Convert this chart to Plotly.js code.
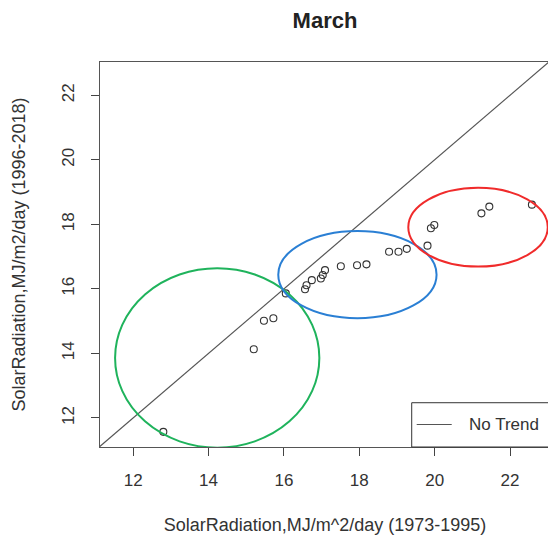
<!DOCTYPE html>
<html>
<head>
<meta charset="utf-8">
<script src="https://cdn.plot.ly/plotly-3.0.1.min.js"></script>
<style>
  html, body { margin: 0; padding: 0; overflow: hidden; background: #fff; }
  #chart { width: 550px; height: 544px; }
</style>
</head>
<body>
<div id="chart"></div>
<script>
// March solar radiation: sorted 1973-1995 values against sorted 1996-2018 values
const early = [12.80, 15.20, 15.47, 15.72, 16.05, 16.56, 16.60, 16.74, 16.98, 17.03,
               17.09, 17.51, 17.94, 18.19, 18.79, 19.04, 19.26, 19.81, 19.90, 19.99,
               21.24, 21.45, 22.58];
const late  = [11.57, 14.13, 15.01, 15.09, 15.86, 15.99, 16.11, 16.27, 16.32, 16.43,
               16.58, 16.70, 16.73, 16.76, 17.15, 17.15, 17.24, 17.34, 17.88, 17.98,
               18.34, 18.55, 18.61];

// 1:1 reference line end points
const noTrendLine = [10, 25];
const legendLabel = 'No Trend';

// highlighted groups: centre and half-widths in data units
const groupNames   = ['low', 'middle', 'high'];
const groupCx      = [14.23, 17.95, 21.15];
const groupCy      = [13.86, 16.44, 17.91];
const groupRx      = [2.71, 2.10, 1.85];
const groupRy      = [2.78, 1.35, 1.22];
const groupColors  = ['#1fb35c', '#2a7fd4', '#f02b2b'];

const tickVals = [12, 14, 16, 18, 20, 22];
const tickText = ['12', '14', '16', '18', '20', '22'];

const font = 'Liberation Sans, Arial, sans-serif';
const ink = '#333';
const lineGrey = '#555';

const traces = [
  {
    x: noTrendLine, y: noTrendLine,
    mode: 'lines', name: legendLabel,
    line: { color: lineGrey, width: 1.2 },
    hoverinfo: 'skip'
  },
  {
    x: early, y: late,
    mode: 'markers', name: 'March',
    marker: { symbol: 'circle-open', size: 7, color: '#333', line: { width: 1.1 } }
  }
];

const shapes = groupNames.map((g, i) => ({
  type: 'circle', xref: 'x', yref: 'y',
  x0: groupCx[i] - groupRx[i], x1: groupCx[i] + groupRx[i],
  y0: groupCy[i] - groupRy[i], y1: groupCy[i] + groupRy[i],
  line: { color: groupColors[i], width: 2 }
}));

// legend box in the lower-right corner of the plotting area
shapes.push(
  { type: 'rect', xref: 'paper', yref: 'paper', x0: 0.6927, x1: 1.05, y0: 0, y1: 0.115,
    line: { color: '#333', width: 1 }, fillcolor: '#fff', layer: 'above' },
  { type: 'line', xref: 'paper', yref: 'paper', x0: 0.7038, x1: 0.7816, y0: 0.0585, y1: 0.0585,
    line: { color: lineGrey, width: 1.2 }, layer: 'above' }
);

const axisCommon = {
  tickmode: 'array', tickvals: tickVals, ticktext: tickText,
  ticks: 'outside', ticklen: 8, tickwidth: 1, tickcolor: '#444',
  showline: true, linecolor: '#555', linewidth: 1, mirror: true,
  showgrid: false, zeroline: false,
  tickfont: { family: font, size: 17, color: ink },
  ticklabelstandoff: 10
};

const layout = {
  width: 550, height: 544,
  margin: { l: 100, r: 0, t: 62, b: 97 },
  paper_bgcolor: '#fff', plot_bgcolor: '#fff',
  font: { family: font, color: ink },
  showlegend: false,
  title: {
    text: '<b>March</b>',
    font: { family: font, size: 22, color: '#222' },
    x: 0.5, xref: 'paper', y: 1 - 20 / 544, yref: 'container', yanchor: 'middle'
  },
  xaxis: Object.assign({}, axisCommon, {
    range: [11.12, 23.06],
    title: { text: 'SolarRadiation,MJ/m^2/day (1973-1995)', font: { family: font, size: 18, color: ink }, standoff: 28 }
  }),
  yaxis: Object.assign({}, axisCommon, {
    range: [11.10, 23.03], tickangle: -90,
    title: { text: 'SolarRadiation,MJ/m2/day (1996-2018)', font: { family: font, size: 18, color: ink }, standoff: 28 }
  }),
  shapes: shapes,
  annotations: [{
    text: legendLabel, xref: 'paper', yref: 'paper', x: 0.8149, y: 0.0585,
    xanchor: 'left', yanchor: 'middle', showarrow: false,
    font: { family: font, size: 17, color: ink }
  }]
};

Plotly.newPlot('chart', traces, layout, { displayModeBar: false, staticPlot: true });
</script>
</body>
</html>
